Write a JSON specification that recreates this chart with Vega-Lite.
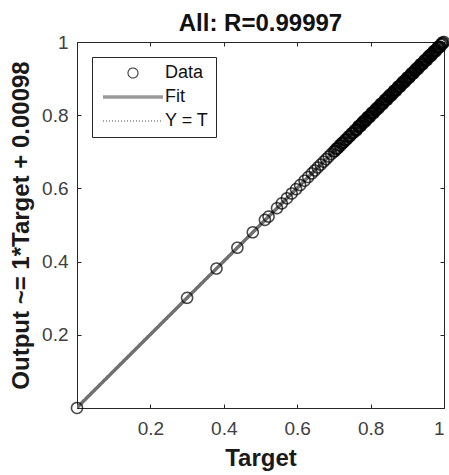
{
  "$schema": "https://vega.github.io/schema/vega-lite/v6.json",
  "width": 367,
  "height": 366,
  "autosize": {"type": "none"},
  "padding": {"left": 77, "top": 42, "right": 5, "bottom": 67},
  "background": "white",
  "title": {"text": "All: R=0.99997", "font": "Liberation Sans", "fontSize": 24, "fontWeight": "bold", "color": "#111111", "anchor": "middle", "offset": -3},
  "config": {
    "view": {"stroke": "#262626", "strokeWidth": 1},
    "axis": {"labelFont": "Liberation Sans", "labelFontSize": 19, "labelColor": "#404040", "titleFont": "Liberation Sans", "titleFontSize": 24, "titleFontWeight": "bold", "titleColor": "#1a1a1a", "domainColor": "#262626", "tickColor": "#262626", "tickSize": -4, "tickWidth": 1, "grid": false, "format": "~g"},
    "legend": {"labelFont": "Liberation Sans", "labelFontSize": 18, "labelColor": "#111111"}
  },
  "data": {"values": [
    {"series":"Data","t":0.0,"y":0.0},
    {"series":"Data","t":0.3,"y":0.301},
    {"series":"Data","t":0.38,"y":0.381},
    {"series":"Data","t":0.437,"y":0.438},
    {"series":"Data","t":0.479,"y":0.48},
    {"series":"Data","t":0.512,"y":0.514},
    {"series":"Data","t":0.522,"y":0.523},
    {"series":"Data","t":0.545,"y":0.546},
    {"series":"Data","t":0.558,"y":0.559},
    {"series":"Data","t":0.572,"y":0.573},
    {"series":"Data","t":0.585,"y":0.586},
    {"series":"Data","t":0.597,"y":0.598},
    {"series":"Data","t":0.608,"y":0.609},
    {"series":"Data","t":0.62,"y":0.621},
    {"series":"Data","t":0.63,"y":0.631},
    {"series":"Data","t":0.64,"y":0.641},
    {"series":"Data","t":0.648,"y":0.649},
    {"series":"Data","t":0.656,"y":0.657},
    {"series":"Data","t":0.664,"y":0.665},
    {"series":"Data","t":0.672,"y":0.673},
    {"series":"Data","t":0.679,"y":0.68},
    {"series":"Data","t":0.686,"y":0.687},
    {"series":"Data","t":0.693,"y":0.694},
    {"series":"Data","t":0.700,"y":0.701},
    {"series":"Data","t":0.703,"y":0.702},
    {"series":"Data","t":0.706,"y":0.708},
    {"series":"Data","t":0.709,"y":0.709},
    {"series":"Data","t":0.712,"y":0.711},
    {"series":"Data","t":0.715,"y":0.717},
    {"series":"Data","t":0.718,"y":0.717},
    {"series":"Data","t":0.721,"y":0.723},
    {"series":"Data","t":0.724,"y":0.724},
    {"series":"Data","t":0.727,"y":0.726},
    {"series":"Data","t":0.730,"y":0.732},
    {"series":"Data","t":0.733,"y":0.733},
    {"series":"Data","t":0.736,"y":0.735},
    {"series":"Data","t":0.739,"y":0.741},
    {"series":"Data","t":0.742,"y":0.742},
    {"series":"Data","t":0.745,"y":0.744},
    {"series":"Data","t":0.748,"y":0.750},
    {"series":"Data","t":0.751,"y":0.751},
    {"series":"Data","t":0.754,"y":0.753},
    {"series":"Data","t":0.757,"y":0.759},
    {"series":"Data","t":0.760,"y":0.760},
    {"series":"Data","t":0.763,"y":0.762},
    {"series":"Data","t":0.766,"y":0.768},
    {"series":"Data","t":0.769,"y":0.769},
    {"series":"Data","t":0.772,"y":0.771},
    {"series":"Data","t":0.775,"y":0.777},
    {"series":"Data","t":0.778,"y":0.778},
    {"series":"Data","t":0.781,"y":0.780},
    {"series":"Data","t":0.784,"y":0.786},
    {"series":"Data","t":0.787,"y":0.787},
    {"series":"Data","t":0.790,"y":0.789},
    {"series":"Data","t":0.793,"y":0.795},
    {"series":"Data","t":0.796,"y":0.796},
    {"series":"Data","t":0.799,"y":0.798},
    {"series":"Data","t":0.802,"y":0.804},
    {"series":"Data","t":0.805,"y":0.805},
    {"series":"Data","t":0.808,"y":0.807},
    {"series":"Data","t":0.811,"y":0.813},
    {"series":"Data","t":0.814,"y":0.814},
    {"series":"Data","t":0.817,"y":0.816},
    {"series":"Data","t":0.820,"y":0.822},
    {"series":"Data","t":0.823,"y":0.823},
    {"series":"Data","t":0.826,"y":0.825},
    {"series":"Data","t":0.829,"y":0.831},
    {"series":"Data","t":0.832,"y":0.832},
    {"series":"Data","t":0.835,"y":0.834},
    {"series":"Data","t":0.838,"y":0.840},
    {"series":"Data","t":0.841,"y":0.841},
    {"series":"Data","t":0.844,"y":0.843},
    {"series":"Data","t":0.847,"y":0.849},
    {"series":"Data","t":0.850,"y":0.850},
    {"series":"Data","t":0.853,"y":0.852},
    {"series":"Data","t":0.856,"y":0.858},
    {"series":"Data","t":0.859,"y":0.859},
    {"series":"Data","t":0.862,"y":0.861},
    {"series":"Data","t":0.865,"y":0.867},
    {"series":"Data","t":0.868,"y":0.868},
    {"series":"Data","t":0.871,"y":0.870},
    {"series":"Data","t":0.874,"y":0.876},
    {"series":"Data","t":0.877,"y":0.877},
    {"series":"Data","t":0.880,"y":0.879},
    {"series":"Data","t":0.883,"y":0.885},
    {"series":"Data","t":0.886,"y":0.886},
    {"series":"Data","t":0.889,"y":0.888},
    {"series":"Data","t":0.892,"y":0.894},
    {"series":"Data","t":0.895,"y":0.895},
    {"series":"Data","t":0.898,"y":0.897},
    {"series":"Data","t":0.901,"y":0.903},
    {"series":"Data","t":0.904,"y":0.904},
    {"series":"Data","t":0.907,"y":0.906},
    {"series":"Data","t":0.910,"y":0.912},
    {"series":"Data","t":0.913,"y":0.913},
    {"series":"Data","t":0.916,"y":0.915},
    {"series":"Data","t":0.919,"y":0.921},
    {"series":"Data","t":0.922,"y":0.922},
    {"series":"Data","t":0.925,"y":0.924},
    {"series":"Data","t":0.928,"y":0.930},
    {"series":"Data","t":0.931,"y":0.931},
    {"series":"Data","t":0.934,"y":0.933},
    {"series":"Data","t":0.937,"y":0.939},
    {"series":"Data","t":0.940,"y":0.940},
    {"series":"Data","t":0.943,"y":0.942},
    {"series":"Data","t":0.946,"y":0.948},
    {"series":"Data","t":0.949,"y":0.949},
    {"series":"Data","t":0.952,"y":0.951},
    {"series":"Data","t":0.955,"y":0.957},
    {"series":"Data","t":0.958,"y":0.958},
    {"series":"Data","t":0.961,"y":0.960},
    {"series":"Data","t":0.964,"y":0.966},
    {"series":"Data","t":0.967,"y":0.967},
    {"series":"Data","t":0.970,"y":0.969},
    {"series":"Data","t":0.973,"y":0.975},
    {"series":"Data","t":0.976,"y":0.976},
    {"series":"Data","t":0.979,"y":0.978},
    {"series":"Data","t":0.982,"y":0.984},
    {"series":"Data","t":0.985,"y":0.985},
    {"series":"Data","t":0.988,"y":0.987},
    {"series":"Data","t":0.991,"y":0.993},
    {"series":"Data","t":0.994,"y":0.994},
    {"series":"Data","t":0.997,"y":0.996},
    {"series":"Data","t":1.000,"y":1.000},
    {"series":"Data","t":0.7615,"y":0.7585},
    {"series":"Data","t":0.7675,"y":0.7705},
    {"series":"Data","t":0.7735,"y":0.7705},
    {"series":"Data","t":0.7795,"y":0.7825},
    {"series":"Data","t":0.7855,"y":0.7825},
    {"series":"Data","t":0.7915,"y":0.7945},
    {"series":"Data","t":0.7975,"y":0.7945},
    {"series":"Data","t":0.8035,"y":0.8065},
    {"series":"Data","t":0.8095,"y":0.8065},
    {"series":"Data","t":0.8155,"y":0.8185},
    {"series":"Data","t":0.8215,"y":0.8185},
    {"series":"Data","t":0.8275,"y":0.8305},
    {"series":"Data","t":0.8335,"y":0.8305},
    {"series":"Data","t":0.8395,"y":0.8425},
    {"series":"Data","t":0.8455,"y":0.8425},
    {"series":"Data","t":0.8515,"y":0.8545},
    {"series":"Data","t":0.8575,"y":0.8545},
    {"series":"Data","t":0.8635,"y":0.8665},
    {"series":"Data","t":0.8695,"y":0.8665},
    {"series":"Data","t":0.8755,"y":0.8785},
    {"series":"Data","t":0.8815,"y":0.8785},
    {"series":"Data","t":0.8875,"y":0.8905},
    {"series":"Data","t":0.8935,"y":0.8905},
    {"series":"Data","t":0.8995,"y":0.9025},
    {"series":"Data","t":0.9055,"y":0.9025},
    {"series":"Data","t":0.9115,"y":0.9145},
    {"series":"Data","t":0.9175,"y":0.9145},
    {"series":"Data","t":0.9235,"y":0.9265},
    {"series":"Data","t":0.9295,"y":0.9265},
    {"series":"Data","t":0.9355,"y":0.9385},
    {"series":"Data","t":0.9415,"y":0.9385},
    {"series":"Data","t":0.9475,"y":0.9505},
    {"series":"Data","t":0.9535,"y":0.9505},
    {"series":"Data","t":0.9595,"y":0.9625},
    {"series":"Data","t":0.9655,"y":0.9625},
    {"series":"Data","t":0.9715,"y":0.9745},
    {"series":"Data","t":0.9775,"y":0.9745},
    {"series":"Data","t":0.9835,"y":0.9865},
    {"series":"Data","t":0.9895,"y":0.9865},
    {"series":"Data","t":0.9955,"y":0.9985},
    {"series":"Fit","t":0.0,"y":0.00098},
    {"series":"Fit","t":1.0,"y":1.00098},
    {"series":"Y = T","t":0.0,"y":0.0},
    {"series":"Y = T","t":1.0,"y":1.0}
  ]},
  "resolve": {"axis": {"x": "independent", "y": "independent"}},
  "layer": [
    {
      "transform": [{"filter": "datum.series === 'Y = T'"}],
      "mark": {"type": "line", "clip": true, "strokeWidth": 1},
      "encoding": {
        "x": {"field": "t", "type": "quantitative", "scale": {"domain": [0, 1], "nice": false, "zero": false}, "axis": {"orient": "top", "values": [0.2, 0.4, 0.6, 0.8, 1], "labels": false, "title": null, "domain": false}},
        "y": {"field": "y", "type": "quantitative", "scale": {"domain": [0, 1], "nice": false, "zero": false}, "axis": {"orient": "right", "values": [0.2, 0.4, 0.6, 0.8, 1], "labels": false, "title": null, "domain": false}},
        "color": {"field": "series", "type": "nominal", "scale": {"domain": ["Data", "Fit", "Y = T"], "range": ["#000000", "#707070", "#000000"]}, "legend": {"title": null}},
        "strokeDash": {"field": "series", "type": "nominal", "scale": {"domain": ["Data", "Fit", "Y = T"], "range": [[1, 0], [1, 0], [1, 2]]}, "legend": {"title": null}}
      }
    },
    {
      "transform": [{"filter": "datum.series === 'Fit'"}],
      "mark": {"type": "line", "clip": true, "strokeWidth": 3.5},
      "encoding": {
        "x": {"field": "t", "type": "quantitative", "axis": null},
        "y": {"field": "y", "type": "quantitative", "axis": null},
        "color": {"field": "series", "type": "nominal", "legend": {"title": null}},
        "strokeDash": {"field": "series", "type": "nominal", "legend": {"title": null}}
      }
    },
    {
      "transform": [{"filter": "datum.series === 'Data'"}],
      "mark": {"type": "point", "filled": false, "size": 121, "strokeWidth": 1.6, "clip": false},
      "encoding": {
        "x": {"field": "t", "type": "quantitative", "axis": {"orient": "bottom", "values": [0.2, 0.4, 0.6, 0.8, 1], "title": "Target", "labelPadding": 15, "titlePadding": 8}},
        "y": {"field": "y", "type": "quantitative", "axis": {"orient": "left", "values": [0.2, 0.4, 0.6, 0.8, 1], "title": "Output ~= 1*Target + 0.00098", "labelPadding": 13, "titlePadding": 8}},
        "color": {"field": "series", "type": "nominal", "legend": {"title": null}},
        "shape": {"field": "series", "type": "nominal", "scale": {"domain": ["Data", "Fit", "Y = T"], "range": ["circle", "M-6,-0.25H6M-6,-0.083H6M-6,0.083H6M-6,0.25H6", "M-6,0H6"]}, "legend": {"title": null, "orient": "top-left", "offset": 15, "padding": 7, "rowPadding": 6, "symbolOffset": 25, "labelOffset": 23, "strokeColor": "#262626", "fillColor": "white", "symbolSize": 100, "symbolStrokeWidth": 1.2}},
        "strokeDash": {"field": "series", "type": "nominal", "legend": {"title": null}}
      }
    }
  ]
}
